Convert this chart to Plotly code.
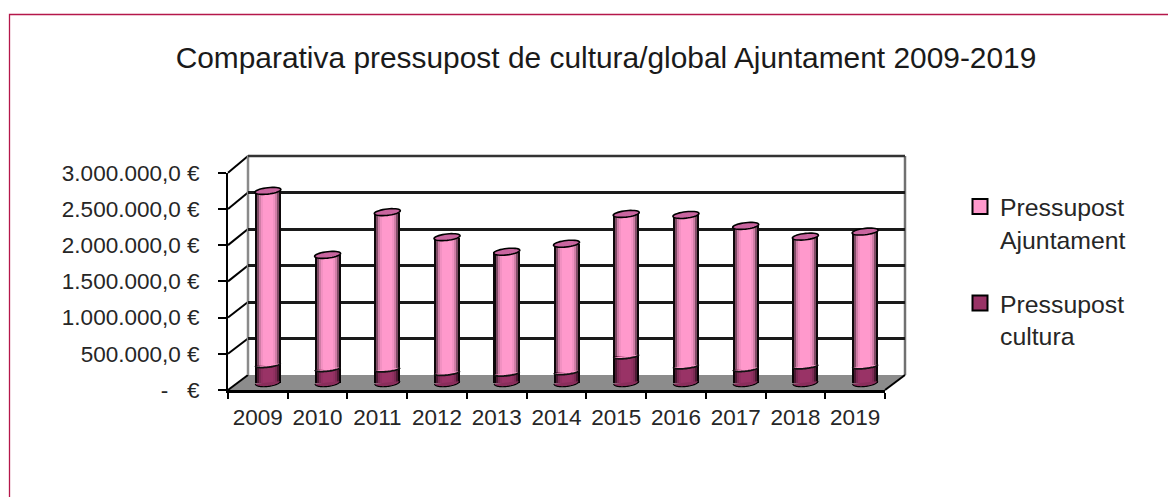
import math
import plotly.graph_objects as go

W, H = 1168, 497
years = [2009, 2010, 2011, 2012, 2013, 2014, 2015, 2016, 2017, 2018, 2019]
cultura = [245000, 190000, 185000, 137000, 127000, 147000, 365000, 227000, 190000, 227000, 227000]
total = [2637000, 1756000, 2344000, 2000000, 1800000, 1910000, 2320000, 2306000, 2155000, 2008000, 2077000]
ajuntament = [t - c for t, c in zip(total, cultura)]
y_ticks = [0, 500000, 1000000, 1500000, 2000000, 2500000, 3000000]
y_labels = ["-   €", "500.000,0 €", "1.000.000,0 €", "1.500.000,0 €", "2.000.000,0 €", "2.500.000,0 €", "3.000.000,0 €"]
title = "Comparativa pressupost de cultura/global Ajuntament 2009-2019"
name_aj = "Pressupost<br>Ajuntament"
name_cu = "Pressupost<br>cultura"
PINK = (255, 153, 204)
PLUM = (153, 51, 102)
shade = [0.05, 0.5, 0.82, 0.95, 1, 1, 1, 1, 1, 0.95, 0.82, 0.5, 0.05]
FONT = "Liberation Sans"
TXT = "#262626"

def px(x): return x / W
def py(y): return 1 - y / H
def col(c, f): return "rgb(%d,%d,%d)" % tuple(round(v * f) for v in c)

# pixel layout of the three depth planes: (left, right, bottom, top)
BACK = (248, 905, 375, 156)
MID = (238, 895, 382.5, 164.5)
FRONT = (228, 885, 390, 172.7)
xr = [2008.5, 2019.5]
yr = [0, 3000000]
ux = (xr[1] - xr[0]) / (MID[1] - MID[0])  # data units per pixel
uy = (yr[1] - yr[0]) / (MID[2] - MID[3])
strip = 2.0
rx = strip * len(shade) / 2
below = 10  # pixels kept under the zero line of the bar plane for the rounded cylinder bottoms

def ell(xc, yc, ry, a0=0.0, a1=2 * math.pi, close=True, r=rx):
    pts = []
    for k in range(37):
        t = a0 + (a1 - a0) * k / 36
        dx = r * math.cos(t)
        dy = ry * math.sin(t) + 0.11 * dx
        pts.append((xc + dx * ux, yc + dy * uy))
    s = "M " + " L ".join("%.4f,%.1f" % p for p in pts)
    return s + (" Z" if close else "")

fig = go.Figure()
# empty traces so that the back and front planes exist as subplots
fig.add_trace(go.Scatter(x=[], y=[], xaxis="x", yaxis="y", showlegend=False, hoverinfo="skip"))

# cylinders built from narrow strips
for i, f in enumerate(shade):
    off = (-rx + i * strip) * ux
    fig.add_trace(go.Bar(x=years, y=cultura, base=[0] * len(years), width=strip * ux, offset=off,
                         marker=dict(color=col(PLUM, f), line_width=0), xaxis="x2", yaxis="y2", showlegend=False, hoverinfo="skip"))
    fig.add_trace(go.Bar(x=years, y=ajuntament, base=cultura, width=strip * ux, offset=off,
                         marker=dict(color=col(PINK, f), line_width=0), xaxis="x2", yaxis="y2", showlegend=False, hoverinfo="skip"))

fig.add_trace(go.Scatter(x=[], y=[], xaxis="x3", yaxis="y3", showlegend=False, hoverinfo="skip"))
for nm, c, grp in [(name_aj, PINK, "a"), (name_cu, PLUM, "b")]:
    fig.add_trace(go.Scatter(x=[None], y=[None], name=nm, mode="markers", xaxis="x3", yaxis="y3", legendgroup=grp,
                             marker=dict(symbol="square", size=15, color=col(c, 1), line=dict(color="#000", width=2))))

shapes = []
# crimson frame
shapes.append(dict(type="path", xref="paper", yref="paper", layer="below",
                   path=f"M {px(9.5)},{py(497)} L {px(9.5)},{py(14.5)} L {px(1168)},{py(14.5)}",
                   line=dict(color="#b5174a", width=1.3)))
# floor
shapes.append(dict(type="path", xref="paper", yref="paper", layer="below", fillcolor="#8c8c8c", line_width=0,
                   path=f"M {px(FRONT[0])},{py(FRONT[2])} L {px(FRONT[1])},{py(FRONT[2])} L {px(BACK[1])},{py(BACK[2])} L {px(BACK[0])},{py(BACK[2])} Z"))
# side wall diagonals from the front ticks to the back grid lines
fh = (FRONT[2] - FRONT[3]) / (yr[1] - yr[0])
bh = (BACK[2] - BACK[3]) / (yr[1] - yr[0])
for v in y_ticks:
    shapes.append(dict(type="line", xref="paper", yref="paper", layer="below",
                       x0=px(FRONT[0]), y0=py(FRONT[2] - v * fh), x1=px(BACK[0]), y1=py(BACK[2] - v * bh),
                       line=dict(color="#000", width=2)))
# walls of the box
for a, b, c, d, color, w in [
    (BACK[0], BACK[2], BACK[0], BACK[3], "#8a8a8a", 2.5),
    (BACK[1], BACK[2], BACK[1], BACK[3], "#707070", 2.5),
    (BACK[0], BACK[3], BACK[1], BACK[3], "#333333", 2.5),
    (FRONT[1], FRONT[2], BACK[1], BACK[2], "#000000", 2),
]:
    shapes.append(dict(type="line", xref="paper", yref="paper", layer="below",
                       x0=px(a), y0=py(b), x1=px(c), y1=py(d), line=dict(color=color, width=w)))
# cylinder ends
for yr_, c, t in zip(years, cultura, total):
    shapes.append(dict(type="path", xref="x2", yref="y2", layer="above", path=ell(yr_, 0, 4, 0, -math.pi, r=rx - 0.5),
                       fillcolor=col(PLUM, 0.9), line_width=0))
    shapes.append(dict(type="path", xref="x2", yref="y2", layer="above", path=ell(yr_, 0, 4, 0, -math.pi, close=False, r=rx - 0.5),
                       line=dict(color="#000", width=1.2)))
    shapes.append(dict(type="path", xref="x2", yref="y2", layer="above", path=ell(yr_, c, 2.5, math.pi, 2 * math.pi, r=rx - 1),
                       fillcolor=col(PINK, 1), line_width=0))
    shapes.append(dict(type="path", xref="x2", yref="y2", layer="above", path=ell(yr_, c, 2.5, math.pi, 2 * math.pi, close=False, r=rx - 0.5),
                       line=dict(color="#111", width=1.8)))
    shapes.append(dict(type="path", xref="x2", yref="y2", layer="above", path=ell(yr_, t, 3.2),
                       fillcolor="#c9659f", line=dict(color="#000", width=1.6)))

hidden = dict(visible=False, range=xr, automargin=False)
fig.update_layout(
    template="none",
    width=W, height=H, autosize=False,
    margin=dict(l=0, r=0, t=0, b=0, pad=0),
    paper_bgcolor="#ffffff", plot_bgcolor="rgba(0,0,0,0)",
    barmode="overlay", bargap=0,
    font=dict(family=FONT, color=TXT),
    title=dict(text=title, font=dict(size=29.9, color="#1a1a1a", family=FONT), xref="container", yref="container",
               x=606 / W, xanchor="center", y=py(58), yanchor="middle"),
    xaxis=dict(hidden, domain=[px(BACK[0]), px(BACK[1])], anchor="y"),
    yaxis=dict(domain=[py(BACK[2]), py(BACK[3])], range=yr, anchor="x", tickvals=y_ticks, showticklabels=False,
               automargin=False, showgrid=True, gridcolor="#1a1a1a", gridwidth=2.5, zeroline=False, ticks="", showline=False),
    xaxis2=dict(hidden, domain=[px(MID[0]), px(MID[1])], anchor="y2"),
    yaxis2=dict(visible=False, domain=[py(MID[2] + below), py(MID[3])], range=[-below * uy, yr[1]], anchor="x2", automargin=False),
    xaxis3=dict(domain=[px(FRONT[0]), px(FRONT[1])], range=xr, anchor="y3", tickvals=years, ticktext=[str(y) for y in years],
                automargin=False, ticks="", tickangle=0, showgrid=False, zeroline=False, showline=True, linecolor="#000", linewidth=3,
                tickfont=dict(size=22.5, color=TXT, family=FONT), ticklabelstandoff=5,
                minor=dict(tickvals=[y - 0.5 for y in years] + [years[-1] + 0.5], ticks="outside", ticklen=6, tickwidth=1.5, tickcolor="#000", showgrid=False)),
    yaxis3=dict(domain=[py(FRONT[2]), py(FRONT[3])], range=yr, anchor="x3", tickvals=y_ticks, ticktext=y_labels,
                automargin=False, ticks="outside", ticklen=8, tickwidth=1.5, tickcolor="#000", showgrid=False, zeroline=False,
                showline=True, linecolor="#000", linewidth=2, ticklabelstandoff=14,
                tickfont=dict(size=22.5, color=TXT, family=FONT)),
    legend=dict(x=px(960), y=py(184), xanchor="left", yanchor="top",
                bgcolor="rgba(0,0,0,0)", borderwidth=0, valign="top",
                font=dict(size=24.8, color=TXT, family=FONT), tracegroupgap=29, itemclick=False, itemdoubleclick=False),
    shapes=shapes,
    showlegend=True,
)
fig.write_html("out.html", post_script="document.body.style.margin='0';", config={"displayModeBar": False})
